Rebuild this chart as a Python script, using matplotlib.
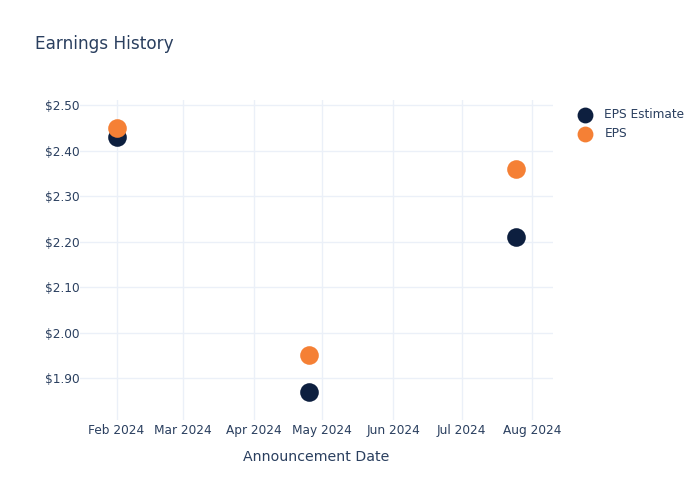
import matplotlib
matplotlib.use("Agg")
import matplotlib.pyplot as plt
import matplotlib.dates as mdates
import numpy as np
import datetime as dt

dates = ["2024-02-01", "2024-04-25", "2024-07-25"]
eps_estimate = [2.43, 1.87, 2.21]
eps_actual = [2.45, 1.95, 2.36]
yticks = [1.90, 2.00, 2.10, 2.20, 2.30, 2.40, 2.50]

plt.rcParams['font.family'] = ['DejaVu Sans']
txt = "#2a3f5f"
grid = "#ebf0f8"

x = [dt.datetime.strptime(d, "%Y-%m-%d") for d in dates]

fig = plt.figure(figsize=(7, 5), dpi=100)
ax = fig.add_axes([80/700, 1-420/500, (553-80)/700, (420-100)/500])

ax.scatter(x, eps_estimate, s=180, color="#0d1f3f", label="EPS Estimate", zorder=3, linewidths=0)
ax.scatter(x, eps_actual, s=180, color="#f58035", label="EPS", zorder=4, linewidths=0)

ax.set_xlim(dt.datetime(2024, 1, 16), dt.datetime(2024, 8, 10))
ax.set_ylim(1.808, 2.511)
ax.set_yticks(yticks)
ax.set_yticklabels([f"${v:.2f}" for v in yticks])
ax.xaxis.set_major_locator(mdates.MonthLocator())
ax.xaxis.set_major_formatter(mdates.DateFormatter("%b %Y"))

for s in ax.spines.values():
    s.set_visible(False)
ax.grid(True, color=grid, linewidth=1)
ax.set_axisbelow(True)
ax.tick_params(length=0, labelsize=8.7, colors=txt)
ax.tick_params(axis="y", pad=0)
ax.tick_params(axis="x", pad=3)
ax.set_xlabel("Announcement Date", color=txt, fontsize=10.2, labelpad=9)

fig.text(35/700, 1-44/500, "Earnings History", color=txt, fontsize=12.2, va="center", ha="left")

leg = ax.legend(loc="upper left", bbox_to_anchor=(568/700, 1-103/500), bbox_transform=fig.transFigure,
                frameon=False, fontsize=8.7, labelcolor=txt, handletextpad=0.6, borderaxespad=0,
                markerscale=0.85, labelspacing=0.55)

fig.savefig("out.png", dpi=100)
